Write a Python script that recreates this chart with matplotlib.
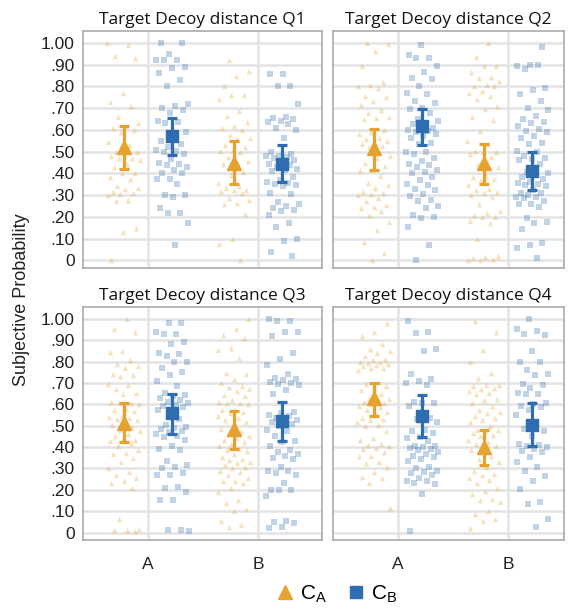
import numpy as np
import matplotlib
matplotlib.use('Agg')
import matplotlib.pyplot as plt
from matplotlib.lines import Line2D

panels = ['Q1', 'Q2', 'Q3', 'Q4']
conditions = ['A', 'B']
groups = ['C_A', 'C_B']

# summary values: mean, lower, upper  (order: A/C_A, A/C_B, B/C_A, B/C_B)
means = {
    'Q1': [0.52, 0.57, 0.45, 0.445],
    'Q2': [0.517, 0.616, 0.449, 0.411],
    'Q3': [0.513, 0.559, 0.486, 0.52],
    'Q4': [0.627, 0.546, 0.402, 0.505],
}
lowers = {
    'Q1': [0.42, 0.485, 0.35, 0.36],
    'Q2': [0.414, 0.531, 0.35, 0.326],
    'Q3': [0.425, 0.46, 0.391, 0.426],
    'Q4': [0.543, 0.447, 0.318, 0.406],
}
uppers = {
    'Q1': [0.62, 0.655, 0.55, 0.53],
    'Q2': [0.604, 0.696, 0.536, 0.498],
    'Q3': [0.604, 0.65, 0.569, 0.612],
    'Q4': [0.70, 0.645, 0.478, 0.607],
}

# raw responses
q1_a_ca = [1.00, 0.99, 0.94, 0.93, 0.77, 0.73, 0.71, 0.66, 0.63, 0.62, 0.61, 0.60, 0.59, 0.545,
           0.53, 0.50, 0.50, 0.49, 0.48, 0.47, 0.47, 0.46, 0.445, 0.43, 0.40, 0.40, 0.385, 0.375,
           0.34, 0.335, 0.33, 0.315, 0.31, 0.305, 0.30, 0.28, 0.275, 0.15, 0.13, 0.0]
q1_a_cb = [1.00, 1.00, 0.95, 0.92, 0.92, 0.92, 0.89, 0.885, 0.86, 0.83, 0.80, 0.72, 0.71, 0.70,
           0.69, 0.68, 0.64, 0.635, 0.63, 0.59, 0.585, 0.55, 0.535, 0.52, 0.51, 0.505, 0.50, 0.49,
           0.465, 0.45, 0.445, 0.44, 0.43, 0.415, 0.40, 0.40, 0.375, 0.375, 0.35, 0.30, 0.30, 0.29,
           0.24, 0.22, 0.22, 0.17, 0.07]
q1_b_ca = [0.92, 0.87, 0.85, 0.80, 0.76, 0.76, 0.74, 0.685, 0.665, 0.635, 0.62, 0.61, 0.60, 0.575,
           0.565, 0.56, 0.53, 0.52, 0.51, 0.505, 0.50, 0.475, 0.455, 0.45, 0.445, 0.405, 0.395,
           0.355, 0.34, 0.335, 0.325, 0.325, 0.32, 0.31, 0.285, 0.28, 0.265, 0.26, 0.215, 0.10,
           0.075, 0.0]
q1_b_cb = [0.855, 0.855, 0.80, 0.80, 0.72, 0.66, 0.655, 0.65, 0.64, 0.635, 0.625, 0.61, 0.60,
           0.565, 0.50, 0.49, 0.48, 0.48, 0.475, 0.47, 0.46, 0.45, 0.445, 0.44, 0.43, 0.42, 0.415,
           0.41, 0.385, 0.37, 0.36, 0.355, 0.35, 0.345, 0.34, 0.31, 0.305, 0.27, 0.26, 0.25, 0.24,
           0.23, 0.225, 0.21, 0.17, 0.155, 0.10, 0.09, 0.04, 0.02]

q2_a_ca = [1.00, 0.995, 0.965, 0.895, 0.82, 0.805, 0.80, 0.795, 0.755, 0.75, 0.735, 0.715, 0.69,
           0.68, 0.66, 0.655, 0.65, 0.60, 0.59, 0.58, 0.565, 0.56, 0.55, 0.545, 0.535, 0.525, 0.52,
           0.48, 0.47, 0.45, 0.435, 0.415, 0.415, 0.39, 0.355, 0.345, 0.335, 0.315, 0.31, 0.305,
           0.30, 0.285, 0.275, 0.255, 0.245, 0.24, 0.225, 0.21, 0.175, 0.14, 0.085, 0.035, 0.0]
q2_a_cb = [0.99, 0.945, 0.93, 0.93, 0.895, 0.865, 0.84, 0.835, 0.80, 0.77, 0.765, 0.735, 0.725,
           0.70, 0.695, 0.68, 0.65, 0.64, 0.625, 0.625, 0.61, 0.605, 0.60, 0.595, 0.59, 0.58, 0.57,
           0.565, 0.54, 0.535, 0.50, 0.50, 0.49, 0.47, 0.455, 0.445, 0.44, 0.43, 0.415, 0.405, 0.40,
           0.385, 0.37, 0.35, 0.345, 0.33, 0.325, 0.305, 0.295, 0.28, 0.275, 0.25, 0.24, 0.21, 0.20,
           0.195, 0.155, 0.07, 0.0]
q2_b_ca = [1.00, 0.935, 0.895, 0.895, 0.865, 0.845, 0.84, 0.825, 0.805, 0.80, 0.80, 0.78, 0.77,
           0.755, 0.74, 0.71, 0.695, 0.66, 0.645, 0.595, 0.55, 0.535, 0.505, 0.50, 0.50, 0.49,
           0.475, 0.445, 0.43, 0.39, 0.385, 0.375, 0.37, 0.345, 0.33, 0.325, 0.315, 0.31, 0.30,
           0.29, 0.26, 0.225, 0.22, 0.21, 0.20, 0.20, 0.18, 0.17, 0.10, 0.02, 0.015, 0.01, 0.005,
           0.0, 0.0]
q2_b_cb = [0.98, 0.90, 0.895, 0.90, 0.88, 0.795, 0.785, 0.765, 0.735, 0.70, 0.69, 0.665, 0.65,
           0.635, 0.63, 0.62, 0.605, 0.595, 0.59, 0.57, 0.565, 0.54, 0.535, 0.505, 0.50, 0.48, 0.47,
           0.465, 0.46, 0.445, 0.405, 0.40, 0.40, 0.385, 0.375, 0.36, 0.355, 0.35, 0.345, 0.34,
           0.325, 0.31, 0.31, 0.30, 0.29, 0.29, 0.285, 0.275, 0.26, 0.26, 0.245, 0.195, 0.175,
           0.17, 0.145, 0.08, 0.07, 0.055, 0.01]

q3_a_ca = [1.00, 0.95, 0.94, 0.85, 0.845, 0.805, 0.79, 0.78, 0.77, 0.74, 0.735, 0.73, 0.695, 0.69,
           0.67, 0.655, 0.65, 0.61, 0.605, 0.605, 0.60, 0.58, 0.575, 0.57, 0.545, 0.54, 0.535,
           0.53, 0.525, 0.52, 0.505, 0.49, 0.48, 0.475, 0.46, 0.45, 0.435, 0.435, 0.43, 0.42,
           0.405, 0.385, 0.37, 0.365, 0.35, 0.33, 0.30, 0.285, 0.27, 0.255, 0.24, 0.23, 0.21,
           0.065, 0.015, 0.01, 0.01, 0.005]
q3_a_cb = [0.98, 0.98, 0.94, 0.93, 0.93, 0.89, 0.88, 0.84, 0.835, 0.825, 0.80, 0.80, 0.77, 0.75,
           0.735, 0.71, 0.685, 0.655, 0.645, 0.64, 0.63, 0.62, 0.61, 0.605, 0.595, 0.59, 0.585,
           0.575, 0.575, 0.53, 0.505, 0.495, 0.49, 0.485, 0.475, 0.47, 0.46, 0.45, 0.445, 0.435,
           0.405, 0.39, 0.385, 0.335, 0.315, 0.305, 0.30, 0.28, 0.27, 0.27, 0.215, 0.21, 0.19,
           0.15, 0.15, 0.01, 0.01, 0.005]
q3_b_ca = [1.00, 0.95, 0.925, 0.91, 0.865, 0.855, 0.815, 0.745, 0.74, 0.72, 0.70, 0.685, 0.68,
           0.67, 0.66, 0.645, 0.64, 0.62, 0.61, 0.605, 0.605, 0.60, 0.575, 0.575, 0.565, 0.56,
           0.545, 0.535, 0.525, 0.515, 0.50, 0.485, 0.475, 0.46, 0.45, 0.44, 0.435, 0.425, 0.415,
           0.405, 0.39, 0.385, 0.38, 0.365, 0.355, 0.345, 0.34, 0.33, 0.325, 0.315, 0.305, 0.30,
           0.29, 0.285, 0.27, 0.255, 0.24, 0.24, 0.23, 0.21, 0.19, 0.15, 0.14, 0.11, 0.10, 0.055,
           0.035, 0.025]
q3_b_cb = [1.00, 0.99, 0.99, 0.94, 0.94, 0.92, 0.84, 0.81, 0.785, 0.74, 0.725, 0.72, 0.715, 0.705,
           0.70, 0.695, 0.69, 0.665, 0.65, 0.565, 0.56, 0.55, 0.545, 0.535, 0.525, 0.52, 0.515,
           0.51, 0.50, 0.48, 0.475, 0.45, 0.43, 0.425, 0.405, 0.385, 0.375, 0.365, 0.36, 0.35,
           0.345, 0.305, 0.29, 0.29, 0.28, 0.27, 0.23, 0.20, 0.20, 0.20, 0.17, 0.055, 0.05, 0.045,
           0.025, 0.02]

q4_a_ca = [0.98, 0.94, 0.92, 0.88, 0.86, 0.85, 0.84, 0.825, 0.81, 0.805, 0.80, 0.80, 0.795, 0.79,
           0.785, 0.78, 0.77, 0.77, 0.76, 0.705, 0.695, 0.685, 0.675, 0.665, 0.65, 0.625, 0.625,
           0.62, 0.61, 0.605, 0.60, 0.59, 0.585, 0.575, 0.565, 0.56, 0.535, 0.53, 0.525, 0.515,
           0.505, 0.50, 0.475, 0.44, 0.435, 0.415, 0.41, 0.405, 0.395, 0.39, 0.375, 0.36, 0.36,
           0.33, 0.325, 0.305, 0.285, 0.26, 0.255, 0.23, 0.115]
q4_a_cb = [0.99, 0.94, 0.935, 0.86, 0.85, 0.74, 0.72, 0.71, 0.70, 0.69, 0.61, 0.605, 0.605, 0.59,
           0.535, 0.53, 0.515, 0.48, 0.475, 0.465, 0.445, 0.44, 0.43, 0.405, 0.405, 0.40, 0.395,
           0.39, 0.385, 0.375, 0.365, 0.36, 0.355, 0.345, 0.335, 0.305, 0.30, 0.29, 0.285, 0.28,
           0.27, 0.255, 0.24, 0.24, 0.23, 0.225, 0.18, 0.005]
q4_b_ca = [0.99, 0.94, 0.855, 0.80, 0.745, 0.725, 0.69, 0.69, 0.685, 0.675, 0.67, 0.66, 0.655,
           0.65, 0.625, 0.62, 0.605, 0.59, 0.575, 0.565, 0.56, 0.545, 0.535, 0.525, 0.515, 0.50,
           0.48, 0.48, 0.475, 0.465, 0.455, 0.45, 0.435, 0.425, 0.415, 0.405, 0.395, 0.385, 0.36,
           0.345, 0.33, 0.305, 0.29, 0.275, 0.27, 0.255, 0.245, 0.23, 0.21, 0.195, 0.18, 0.155,
           0.15, 0.145, 0.10, 0.085, 0.065, 0.055, 0.02]
q4_b_cb = [1.00, 0.95, 0.945, 0.93, 0.925, 0.85, 0.80, 0.80, 0.76, 0.74, 0.735, 0.695, 0.69,
           0.675, 0.655, 0.65, 0.65, 0.605, 0.60, 0.59, 0.585, 0.575, 0.55, 0.515, 0.485, 0.475,
           0.45, 0.415, 0.41, 0.405, 0.40, 0.39, 0.38, 0.375, 0.355, 0.33, 0.305, 0.29, 0.265,
           0.24, 0.205, 0.145, 0.135, 0.065, 0.025]

raw = {
    'Q1': [q1_a_ca, q1_a_cb, q1_b_ca, q1_b_cb],
    'Q2': [q2_a_ca, q2_a_cb, q2_b_ca, q2_b_cb],
    'Q3': [q3_a_ca, q3_a_cb, q3_b_ca, q3_b_cb],
    'Q4': [q4_a_ca, q4_a_cb, q4_b_ca, q4_b_cb],
}

ytick_vals = [0, 0.1, 0.2, 0.3, 0.4, 0.5, 0.6, 0.7, 0.8, 0.9, 1.0]
ytick_labels = ['0', '.10', '.20', '.30', '.40', '.50', '.60', '.70', '.80', '.90', '1.00']

orange = '#E5A22F'
blue = '#2E6DAF'
colors = [orange, blue]
markers = ['^', 's']

W, H = 568, 609
fig = plt.figure(figsize=(W / 100, H / 100), dpi=100)

# axes boxes in pixels: left, right, top, bottom
boxes = [(83, 322, 31, 268), (333, 564, 31, 268),
         (83, 322, 307, 540), (333, 564, 307, 540)]
px_per_unit = 110.0

for k, q in enumerate(panels):
    l, r, t, b = boxes[k]
    ax = fig.add_axes([l / W, 1 - b / H, (r - l) / W, (b - t) / H])
    ax.set_xlim(-65 / px_per_unit, 1 + (r - l - 65 - px_per_unit) / px_per_unit)
    ax.set_ylim(-0.035, 1.055)

    for y in ytick_vals:
        ax.axhline(y, color='#e3e3e3', lw=1.8, zorder=0)
    for x in [0, 1]:
        ax.axvline(x, color='#e3e3e3', lw=1.8, zorder=0)

    for j in range(4):
        cond = j // 2
        g = j % 2
        center = cond + (-0.22 if g == 0 else 0.22)
        vals = np.array(raw[q][j])
        n = len(vals)
        # deterministic spread (golden ratio sequence) for the jitter
        off = ((np.arange(n) * 0.618034 + 0.3 * k + 0.17 * j) % 1.0 - 0.5) * 0.30
        ax.scatter(center + off, vals, marker=markers[g], s=16 if g == 0 else 13,
                   color=colors[g], alpha=0.3, linewidths=0, zorder=2)
        m = means[q][j]
        ax.errorbar([center], [m],
                    yerr=[[m - lowers[q][j]], [uppers[q][j] - m]],
                    fmt=markers[g], color=colors[g], ms=10 if g == 0 else 9,
                    elinewidth=2.3, capsize=3.5, capthick=2.3, zorder=4)

    ax.set_yticks(ytick_vals)
    ax.set_xticks([0, 1])
    ax.tick_params(length=0, labelsize=12.5, colors='#222222', pad=6)
    if k % 2 == 0:
        ax.set_yticklabels(ytick_labels, family='Liberation Sans')
    else:
        ax.set_yticklabels([])
    if k >= 2:
        ax.set_xticklabels(conditions, family='Liberation Sans')
        ax.tick_params(axis='x', pad=12)
    else:
        ax.set_xticklabels([])
    for s in ax.spines.values():
        s.set_color('#aaaaaa')
        s.set_linewidth(1.2)
    ax.set_title('Target Decoy distance ' + q, fontsize=12.5, family='Open Sans',
                 color='#111111', pad=5)

fig.text(22 / W, 1 - 300 / H, 'Subjective Probability', rotation=90, va='center',
         ha='center', fontsize=13, family='Liberation Sans', color='#222222')

handles = [Line2D([], [], marker='^', color=orange, ls='', ms=10),
           Line2D([], [], marker='s', color=blue, ls='', ms=8)]
fig.legend(handles, ['$\\mathregular{C_A}$', '$\\mathregular{C_B}$'], loc='center',
           bbox_to_anchor=(336 / W, 1 - 594 / H), ncol=2, frameon=False,
           handletextpad=0.2, columnspacing=0.9, handlelength=1.0,
           prop={'family': 'Liberation Sans', 'size': 15})

fig.savefig('out.png', dpi=100)
